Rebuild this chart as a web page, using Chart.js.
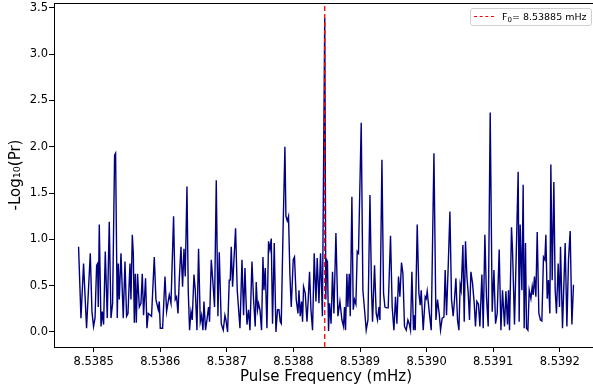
<!DOCTYPE html>
<html>
<head>
<meta charset="utf-8">
<script src="https://cdn.jsdelivr.net/npm/chart.js@4.4.1/dist/chart.umd.min.js"></script>
<style>
html,body{margin:0;padding:0;background:#fff;overflow:hidden;}
#wrap{position:relative;width:600px;height:387px;}
#legend{position:absolute;left:470px;top:8px;width:122px;height:18px;border:1px solid #d0d0d0;border-radius:3px;background:rgba(255,255,255,0.85);font-family:"DejaVu Sans",sans-serif;font-size:9.5px;color:#000;box-sizing:border-box;}
#legend .sample{position:absolute;left:3px;top:7px;width:20px;height:0;border-top:1.3px dashed #ff0000;}
#legend .txt{position:absolute;left:31px;top:2px;white-space:nowrap;line-height:12px;}
#legend sub{font-size:7px;vertical-align:-2px;line-height:0;}
</style>
</head>
<body>
<div id="wrap">
<canvas id="c" width="600" height="387"></canvas>
<div id="legend"><span class="sample"></span><span class="txt" id="legtxt"></span></div>
</div>
<script>
// Pulse frequency (mHz) and -log10(Pr)
const freqs = [
8.5384773,8.5384809,8.5384848,8.5384893,8.5384949,8.5384974,8.5384998,8.5385020,8.5385044,8.5385059,
8.5385069,8.5385084,8.5385110,8.5385129,8.5385149,8.5385174,8.5385204,8.5385234,8.5385260,8.5385284,
8.5385314,8.5385329,8.5385354,8.5385369,8.5385384,8.5385410,8.5385444,8.5385470,8.5385494,8.5385515,
8.5385545,8.5385560,8.5385580,8.5385595,8.5385610,8.5385625,8.5385640,8.5385659,8.5385685,8.5385710,
8.5385730,8.5385749,8.5385779,8.5385800,8.5385820,8.5385869,8.5385910,8.5385935,8.5385970,8.5385985,
8.5386000,8.5386035,8.5386071,8.5386095,8.5386135,8.5386161,8.5386200,8.5386225,8.5386245,8.5386266,
8.5386285,8.5386311,8.5386335,8.5386356,8.5386375,8.5386401,8.5386420,8.5386440,8.5386461,8.5386480,
8.5386506,8.5386526,8.5386551,8.5386575,8.5386601,8.5386620,8.5386641,8.5386656,8.5386680,8.5386701,
8.5386725,8.5386740,8.5386766,8.5386791,8.5386815,8.5386841,8.5386866,8.5386886,8.5386916,8.5386946,
8.5386971,8.5386986,8.5387011,8.5387036,8.5387051,8.5387066,8.5387086,8.5387131,8.5387156,8.5387197,
8.5387227,8.5387251,8.5387272,8.5387284,8.5387302,8.5387326,8.5387347,8.5387377,8.5387401,8.5387426,
8.5387441,8.5387461,8.5387476,8.5387497,8.5387521,8.5387542,8.5387557,8.5387577,8.5387602,8.5387626,
8.5387647,8.5387667,8.5387686,8.5387712,8.5387737,8.5387761,8.5387782,8.5387802,8.5387817,8.5387842,
8.5387872,8.5387887,8.5387907,8.5387926,8.5387947,8.5387967,8.5387997,8.5388016,8.5388042,8.5388068,
8.5388083,8.5388102,8.5388122,8.5388137,8.5388152,8.5388177,8.5388203,8.5388222,8.5388242,8.5388263,
8.5388287,8.5388312,8.5388338,8.5388357,8.5388383,8.5388407,8.5388435,8.5388470,8.5388486,8.5388498,
8.5388511,8.5388527,8.5388542,8.5388565,8.5388587,8.5388608,8.5388638,8.5388668,8.5388698,8.5388728,
8.5388752,8.5388767,8.5388782,8.5388803,8.5388818,8.5388838,8.5388853,8.5388878,8.5388898,8.5388917,
8.5388938,8.5388958,8.5388977,8.5389018,8.5389043,8.5389068,8.5389093,8.5389119,8.5389149,8.5389173,
8.5389188,8.5389218,8.5389243,8.5389263,8.5389284,8.5389299,8.5389329,8.5389353,8.5389374,8.5389398,
8.5389423,8.5389458,8.5389483,8.5389509,8.5389533,8.5389554,8.5389578,8.5389599,8.5389623,8.5389644,
8.5389668,8.5389694,8.5389719,8.5389739,8.5389758,8.5389779,8.5389803,8.5389814,8.5389829,8.5389859,
8.5389884,8.5389904,8.5389919,8.5389949,8.5389979,8.5389994,8.5390009,8.5390039,8.5390069,8.5390110,
8.5390140,8.5390164,8.5390189,8.5390209,8.5390234,8.5390260,8.5390279,8.5390299,8.5390324,8.5390350,
8.5390374,8.5390399,8.5390419,8.5390440,8.5390464,8.5390485,8.5390504,8.5390519,8.5390545,8.5390565,
8.5390584,8.5390605,8.5390625,8.5390644,8.5390665,8.5390689,8.5390715,8.5390734,8.5390755,8.5390779,
8.5390800,8.5390830,8.5390850,8.5390875,8.5390899,8.5390925,8.5390955,8.5390985,8.5391011,8.5391035,
8.5391060,8.5391090,8.5391116,8.5391140,8.5391170,8.5391191,8.5391215,8.5391230,8.5391245,8.5391275,
8.5391290,8.5391320,8.5391345,8.5391375,8.5391390,8.5391405,8.5391431,8.5391450,8.5391465,8.5391485,
8.5391500,8.5391521,8.5391541,8.5391566,8.5391586,8.5391601,8.5391620,8.5391641,8.5391661,8.5391686,
8.5391710,8.5391731,8.5391755,8.5391776,8.5391791,8.5391811,8.5391830,8.5391851,8.5391866,8.5391886,
8.5391911,8.5391931,8.5391950,8.5391976,8.5391996,8.5392011,8.5392041,8.5392081,8.5392107,8.5392131,
8.5392156,8.5392182,8.5392206
];
const logPower = [
0.92,0.15,0.74,0.04,0.85,0.22,0.06,0.15,0.72,0.74,
0.27,1.16,0.06,0.22,0.08,0.87,0.15,1.19,0.15,0.31,
1.91,1.93,0.15,0.74,0.35,0.85,0.15,0.76,0.17,0.20,
0.74,0.35,1.05,0.85,0.10,0.63,0.10,0.63,0.27,0.31,
0.63,0.18,0.58,0.04,0.20,0.17,0.81,0.35,0.24,0.33,
0.04,0.04,0.60,0.22,0.40,0.31,1.25,0.35,0.38,0.20,
0.56,0.92,0.49,0.90,0.60,1.57,0.45,0.02,0.22,0.13,
0.62,0.45,0.02,0.90,0.11,0.18,0.02,0.33,0.02,0.13,
0.27,0.11,0.78,0.53,0.27,1.64,0.17,0.86,0.09,0.02,
0.18,0.13,0.00,0.56,0.56,0.92,0.49,1.12,0.45,0.04,
0.78,0.18,0.69,0.42,0.08,0.24,0.02,0.76,0.35,0.06,
0.54,0.24,0.31,0.24,0.02,0.81,0.45,0.69,0.04,0.98,
0.89,1.01,0.09,0.96,0.00,0.24,0.24,0.11,0.09,1.03,
2.00,1.25,1.20,1.25,0.62,0.27,0.78,0.81,0.35,0.20,
0.45,0.17,0.33,0.11,0.49,0.42,0.11,0.35,0.65,0.24,
0.02,0.85,0.33,0.80,0.31,0.85,0.17,3.39,0.35,0.78,
0.76,0.01,0.31,0.09,0.65,0.20,1.07,0.17,0.33,0.13,
0.06,0.27,0.02,0.63,0.27,0.63,0.17,1.46,0.24,0.35,
0.30,0.87,0.85,2.26,0.45,0.24,0.02,0.13,1.48,0.45,
0.11,0.72,0.20,0.13,0.27,0.13,1.86,0.42,0.27,0.26,
0.26,1.04,0.27,0.02,0.38,0.09,0.60,0.38,0.75,0.63,
0.06,0.02,0.13,0.09,0.02,0.65,0.02,0.18,0.02,1.16,
0.42,0.29,0.45,0.02,0.38,0.36,0.44,0.22,0.02,1.93,
0.13,0.35,0.20,0.02,0.15,0.16,0.67,0.18,0.70,1.30,
0.35,0.17,0.35,0.58,0.13,0.02,0.51,0.45,0.94,0.11,
0.98,0.60,0.42,0.13,0.65,0.53,0.31,0.06,0.33,0.30,
0.06,0.62,0.04,1.05,0.38,0.06,2.37,0.22,0.67,0.09,
0.20,0.89,0.02,0.45,0.06,0.44,0.08,0.45,0.02,1.13,
0.89,0.08,0.81,1.73,0.11,1.16,0.45,1.59,0.04,0.96,
0.04,0.02,0.45,0.36,0.49,0.40,0.60,0.38,1.08,0.20,
0.13,0.12,0.81,0.78,1.05,0.36,0.56,0.20,1.81,0.56,
1.62,0.45,0.20,0.74,0.27,0.92,0.04,0.96,0.06,0.78,
1.09,0.08,0.51
];
const F0 = 8.538847;
const xTicks = [8.5385,8.5386,8.5387,8.5388,8.5389,8.5390,8.5391,8.5392];
const yTicks = [0.0,0.5,1.0,1.5,2.0,2.5,3.0,3.5];
const X_MIN = 8.5384404, X_MAX = 8.5392574;
const Y_MIN = -0.162, Y_MAX = 3.553;

document.getElementById('legtxt').innerHTML = 'F<sub>0</sub>= ' + F0.toFixed(5) + ' mHz';

const points = freqs.map((f,i)=>({x:f,y:logPower[i]}));

const frame = {
  id:'frame',
  afterDraw(chart){
    const a = chart.chartArea, ctx = chart.ctx;
    ctx.save();
    ctx.strokeStyle = '#000';
    ctx.lineWidth = 1;
    ctx.strokeRect(Math.round(a.left)+0.5, Math.round(a.top)+0.5, a.right-a.left, a.bottom-a.top);
    ctx.restore();
  }
};

const FONT = '"DejaVu Sans", sans-serif';
new Chart(document.getElementById('c'), {
  type:'line',
  data:{
    datasets:[
      {label:'F0', data:[{x:F0,y:Y_MIN},{x:F0,y:Y_MAX}], borderColor:'#ff0000', borderWidth:1.3, borderDash:[5,3], pointRadius:0, order:0},
      {label:'power', data:points, borderColor:'#000080', borderWidth:1.4, pointRadius:0, tension:0, order:1}
    ]
  },
  options:{
    responsive:false, animation:false,
    layout:{padding:{top:3,right:2,left:0,bottom:0}},
    plugins:{legend:{display:false}, tooltip:{enabled:false}},
    scales:{
      x:{
        type:'linear', min:X_MIN, max:X_MAX,
        afterBuildTicks: s => { s.ticks = xTicks.map(v=>({value:v})); },
        afterFit: s => { s.height = 40; s.paddingLeft = 0; s.paddingRight = 0; },
        ticks:{ callback: v => Number(v).toFixed(4), color:'#000', font:{family:FONT,size:11.5}, padding:3, maxRotation:0, autoSkip:false },
        grid:{ display:true, drawOnChartArea:false, drawTicks:true, tickLength:5, tickColor:'#000', tickWidth:1 },
        border:{ display:true, color:'#000', width:1 },
        title:{ display:true, text:'Pulse Frequency (mHz)', color:'#000', font:{family:FONT,size:15}, padding:{top:0,bottom:1} }
      },
      y:{
        type:'linear', min:Y_MIN, max:Y_MAX,
        afterBuildTicks: s => { s.ticks = yTicks.map(v=>({value:v})); },
        afterFit: s => { s.width = 54; s.paddingTop = 0; s.paddingBottom = 0; },
        ticks:{ callback: v => Number(v).toFixed(1), color:'#000', font:{family:FONT,size:11.5}, padding:1, autoSkip:false },
        grid:{ display:true, drawOnChartArea:false, drawTicks:true, tickLength:5, tickColor:'#000', tickWidth:1 },
        border:{ display:true, color:'#000', width:1 },
        title:{ display:true, text:'-Log₁₀(Pr)', color:'#000', font:{family:FONT,size:15}, padding:{top:7,bottom:0} }
      }
    }
  },
  plugins:[frame]
});
</script>
</body>
</html>
